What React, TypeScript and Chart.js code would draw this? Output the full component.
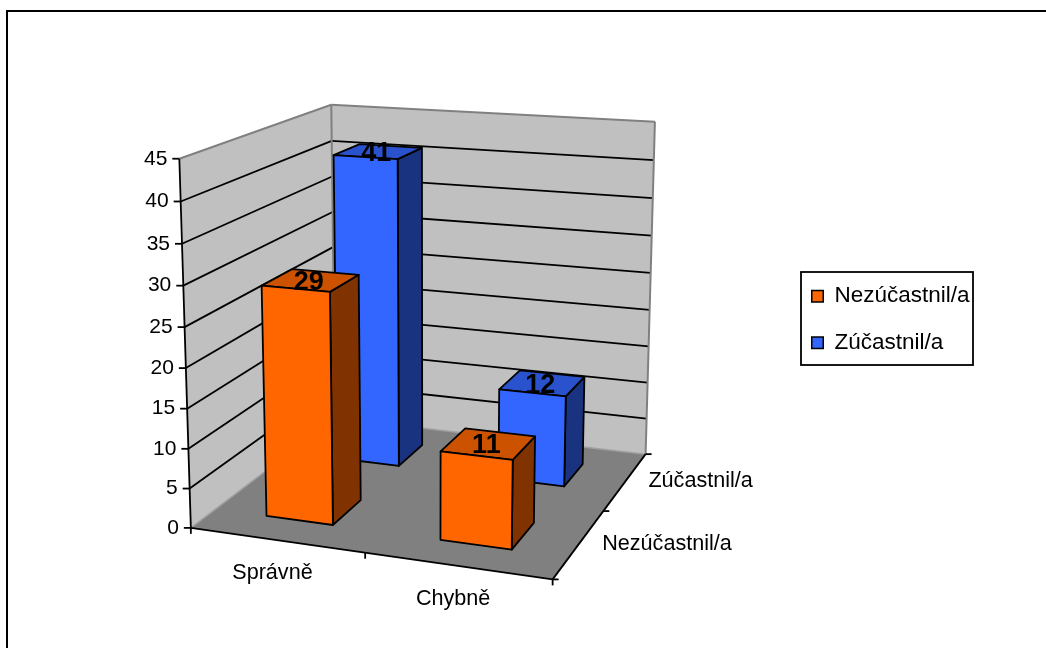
import React, { useEffect, useRef } from "react";
import { Chart, registerables } from "chart.js";

Chart.register(...registerables);

const categories = ["Správně", "Chybně"];
const seriesNames = ["Nezúčastnil/a", "Zúčastnil/a"];
const nezucastnil = [29, 11];
const zucastnil = [41, 12];
const tickStep = 5;
const axisMax = 45;

const FONT = "'Liberation Sans', Arial, sans-serif";
const BAR_FILL = "#FF6600";
const BAR_FILL_2 = "#3366FF";
const SHADES: Record<string, { top: string; side: string }> = {
  [BAR_FILL]: { top: "#CC5200", side: "#803300" },
  [BAR_FILL_2]: { top: "#2952CC", side: "#1A3380" },
};
const DEPTH_FILL = 0.4;
const LW = 1.8;

// Camera calibration: [along x, along depth, up] -> [screen x, screen y]
const CAMERA: [number, number, number, number, number][] = [
  [0, 0, 0, 192, 528],
  [0.5, 0, 0, 364, 553],
  [1, 0, 0, 552, 579],
  [1, 0.5, 0, 605, 511],
  [1, 1, 0, 646.5, 454],
  [0, 1, 0, 333, 418],
  [0, 0, 1, 178, 158],
  [0, 0, 8 / 9, 180, 201],
  [0, 0, 7 / 9, 182.5, 244],
  [0, 0, 6 / 9, 183.5, 287],
  [0, 0, 2 / 9, 189, 448],
  [0, 0, 1 / 9, 190, 489],
  [0, 1, 1, 332, 105],
  [0, 1, 8 / 9, 332.5, 140],
  [0, 1, 7 / 9, 332.5, 177],
  [1, 1, 1, 656, 123],
  [1, 1, 8 / 9, 653, 159],
  [1, 1, 7 / 9, 652.5, 198],
  [1, 1, 6 / 9, 651, 235],
  [1, 1, 5 / 9, 650, 274],
];

function solve(A: number[][], b: number[]) {
  const n = b.length;
  const M = A.map((r, i) => [...r, b[i]]);
  for (let c = 0; c < n; c++) {
    let p = c;
    for (let r = c + 1; r < n; r++) if (Math.abs(M[r][c]) > Math.abs(M[p][c])) p = r;
    [M[c], M[p]] = [M[p], M[c]];
    for (let r = 0; r < n; r++) {
      if (r === c) continue;
      const f = M[r][c] / M[c][c];
      for (let k = c; k <= n; k++) M[r][k] -= f * M[c][k];
    }
  }
  return M.map((r, i) => r[n] / r[i]);
}

function fitCamera() {
  const N = 11;
  const A = Array.from({ length: N }, () => new Array(N).fill(0));
  const B = new Array(N).fill(0);
  const add = (row: number[], t: number) => {
    for (let i = 0; i < N; i++) {
      B[i] += row[i] * t;
      for (let j = 0; j < N; j++) A[i][j] += row[i] * row[j];
    }
  };
  for (const [x, d, z, sx, sy] of CAMERA) {
    const X = sx / 500;
    const Y = sy / 500;
    add([1, x, d, z, 0, 0, 0, 0, -X * x, -X * d, -X * z], X);
    add([0, 0, 0, 0, 1, x, d, z, -Y * x, -Y * d, -Y * z], Y);
  }
  return solve(A, B);
}
const cam = fitCamera();
const project = (x: number, d: number, z: number): [number, number] => {
  const w = 1 + cam[8] * x + cam[9] * d + cam[10] * z;
  return [
    (500 * (cam[0] + cam[1] * x + cam[2] * d + cam[3] * z)) / w,
    (500 * (cam[4] + cam[5] * x + cam[6] * d + cam[7] * z)) / w,
  ];
};

function poly(ctx: CanvasRenderingContext2D, pts: [number, number][], fill: string | null, stroke: string | null, lw = LW) {
  ctx.beginPath();
  pts.forEach((p, i) => (i ? ctx.lineTo(p[0], p[1]) : ctx.moveTo(p[0], p[1])));
  ctx.closePath();
  if (fill) {
    ctx.fillStyle = fill;
    ctx.fill();
  }
  if (stroke) {
    ctx.strokeStyle = stroke;
    ctx.lineWidth = lw;
    ctx.lineJoin = "round";
    ctx.stroke();
  }
}
function line(ctx: CanvasRenderingContext2D, a: [number, number], b: [number, number], color = "#000", lw = LW) {
  ctx.beginPath();
  ctx.moveTo(a[0], a[1]);
  ctx.lineTo(b[0], b[1]);
  ctx.strokeStyle = color;
  ctx.lineWidth = lw;
  ctx.stroke();
}

const scene3d = {
  id: "scene3d",
  afterLayout(chart: any) {
    const l = chart.legend;
    l.left = 811.75 - l.options.labels.padding;
    l.right = l.left + 300;
    l.top = 261;
    l.bottom = 640;
  },
  beforeDraw(chart: any) {
    const ctx = chart.ctx;
    ctx.save();
    ctx.fillStyle = "#fff";
    ctx.fillRect(0, 0, chart.width, chart.height);
    line(ctx, [7, 11], [1046, 11], "#000", 2);
    line(ctx, [7, 10], [7, 648], "#000", 2);
    ctx.fillStyle = "#fff";
    ctx.fillRect(801, 272, 172, 93);
    ctx.strokeStyle = "#000";
    ctx.lineWidth = LW;
    ctx.strokeRect(801, 272, 172, 93);
    ctx.restore();
  },
  beforeDatasetsDraw(chart: any) {
    const ctx: CanvasRenderingContext2D = chart.ctx;
    const { x: xs, y: ys, depth } = chart.scales;
    ctx.save();
    ctx.textBaseline = "middle";

    // walls and floor
    const wallGrey = "#C0C0C0";
    poly(ctx, [project(0, 0, 0), project(0, 1, 0), project(0, 1, 1), project(0, 0, 1)], wallGrey, null);
    poly(ctx, [project(0, 1, 0), project(1, 1, 0), project(1, 1, 1), project(0, 1, 1)], wallGrey, null);
    poly(ctx, [project(0, 0, 0), project(1, 0, 0), project(1, 1, 0), project(0, 1, 0)], "#808080", null);

    // grid lines and value axis
    const norm = (v: number) => (ys.bottom - ys.getPixelForValue(v)) / ys.height;
    ctx.fillStyle = "#000";
    ctx.font = `21px ${FONT}`;
    ctx.textAlign = "right";
    for (const t of ys.ticks) {
      const z = norm(t.value);
      if (t.value > 0 && t.value < axisMax) {
        line(ctx, project(0, 0, z), project(0, 1, z));
        line(ctx, project(0, 1, z), project(1, 1, z));
      }
      const p = project(0, 0, z);
      line(ctx, [p[0] - 7, p[1]], p);
      ctx.fillStyle = "#000";
      ctx.fillText(String(t.label), p[0] - 12, p[1]);
    }
    const grey = "#808080";
    line(ctx, project(0, 0, 1), project(0, 1, 1), grey, 2);
    line(ctx, project(0, 1, 1), project(1, 1, 1), grey, 2);
    line(ctx, project(1, 1, 1), project(1, 1, 0), grey, 2);
    line(ctx, project(0, 1, 1), project(0, 1, 0), grey, 2);
    line(ctx, project(0, 0, 0), project(0, 1, 0), "#A0A0A0", 1.5);
    line(ctx, project(0, 1, 0), project(1, 1, 0), "#A0A0A0", 1.5);

    // axes
    line(ctx, project(0, 0, 0), project(0, 0, 1));
    line(ctx, project(0, 0, 0), project(1, 0, 0));
    line(ctx, project(1, 0, 0), project(1, 1, 0));
    for (let i = 0; i <= categories.length; i++) {
      const p = project(i / categories.length, 0, 0);
      line(ctx, p, [p[0], p[1] + 6]);
    }
    for (let i = 0; i <= seriesNames.length; i++) {
      const p = project(1, i / seriesNames.length, 0);
      line(ctx, p, [p[0] + 6, p[1]]);
    }

    // axis labels
    const nx = (px: number) => (px - xs.left) / xs.width;
    const nd = (px: number) => (px - depth.left) / depth.width;
    ctx.font = `21.6px ${FONT}`;
    ctx.textAlign = "center";
    categories.forEach((c, i) => {
      const p = project(nx(xs.getPixelForValue(i)), 0, 0);
      ctx.fillText(c, p[0] - 4, p[1] + 33);
    });
    ctx.textAlign = "left";
    seriesNames.forEach((s, i) => {
      const p = project(1, nd(depth.getPixelForValue(i)), 0);
      ctx.fillText(s, p[0] + 23, p[1]);
    });

    // bars, back row first
    for (let di = chart.data.datasets.length - 1; di >= 0; di--) {
      const ds = chart.data.datasets[di];
      const meta = chart.getDatasetMeta(di);
      const band = 1 / seriesNames.length;
      const dc = nd(depth.getPixelForValue(di));
      const d0 = dc - (band * DEPTH_FILL) / 2;
      const d1 = dc + (band * DEPTH_FILL) / 2;
      const shade = SHADES[ds.backgroundColor];
      meta.data.forEach((el: any) => {
        const x0 = nx(el.x - el.width / 2);
        const x1 = nx(el.x + el.width / 2);
        const z = (ys.bottom - el.y) / ys.height;
        poly(ctx, [project(x1, d0, 0), project(x1, d1, 0), project(x1, d1, z), project(x1, d0, z)], shade.side, "#000");
        poly(ctx, [project(x0, d0, z), project(x1, d0, z), project(x1, d1, z), project(x0, d1, z)], shade.top, "#000");
        poly(ctx, [project(x0, d0, 0), project(x1, d0, 0), project(x1, d0, z), project(x0, d0, z)], ds.backgroundColor, "#000");
      });
    }
    // value labels
    ctx.font = `bold 27px ${FONT}`;
    ctx.textAlign = "center";
    ctx.fillStyle = "#000";
    chart.data.datasets.forEach((ds: any, di: number) => {
      const dc = nd(depth.getPixelForValue(di));
      chart.getDatasetMeta(di).data.forEach((el: any, i: number) => {
        const p = project(nx(el.x), dc, (ys.bottom - el.y) / ys.height);
        ctx.fillText(String(ds.data[i]), p[0] - 2, p[1] + 2);
      });
    });
    ctx.restore();
    return false;
  },
};

export default function App() {
  const ref = useRef<HTMLCanvasElement>(null);
  useEffect(() => {
    const chart = new Chart(ref.current as HTMLCanvasElement, {
      type: "bar",
      data: {
        labels: categories,
        datasets: [
          { label: seriesNames[0], data: nezucastnil, backgroundColor: BAR_FILL, borderColor: "#000", borderWidth: 1.5, grouped: false, barPercentage: 0.39, categoryPercentage: 1 } as any,
          { label: seriesNames[1], data: zucastnil, backgroundColor: BAR_FILL_2, borderColor: "#000", borderWidth: 1.5, grouped: false, barPercentage: 0.39, categoryPercentage: 1 } as any,
        ],
      },
      options: {
        responsive: false,
        animation: false,
        layout: { padding: 0 },
        scales: {
          x: { display: false, offset: true },
          depth: { type: "category", axis: "x", labels: seriesNames, display: false, offset: true } as any,
          y: { display: false, min: 0, max: axisMax, ticks: { stepSize: tickStep } },
        },
        plugins: {
          tooltip: { enabled: false },
          legend: {
            position: "right",
            align: "start",
            labels: {
              boxWidth: 11.5,
              boxHeight: 11.5,
              padding: 24,
              color: "#000",
              font: { family: "'Liberation Sans', Arial, sans-serif", size: 22.5 },
            },
          },
        },
      },
      plugins: [scene3d as any],
    });
    return () => chart.destroy();
  }, []);
  return (
    <canvas
      ref={ref}
      width={1046}
      height={648}
      style={{ position: "absolute", left: 0, top: 0, display: "block" }}
    />
  );
}
